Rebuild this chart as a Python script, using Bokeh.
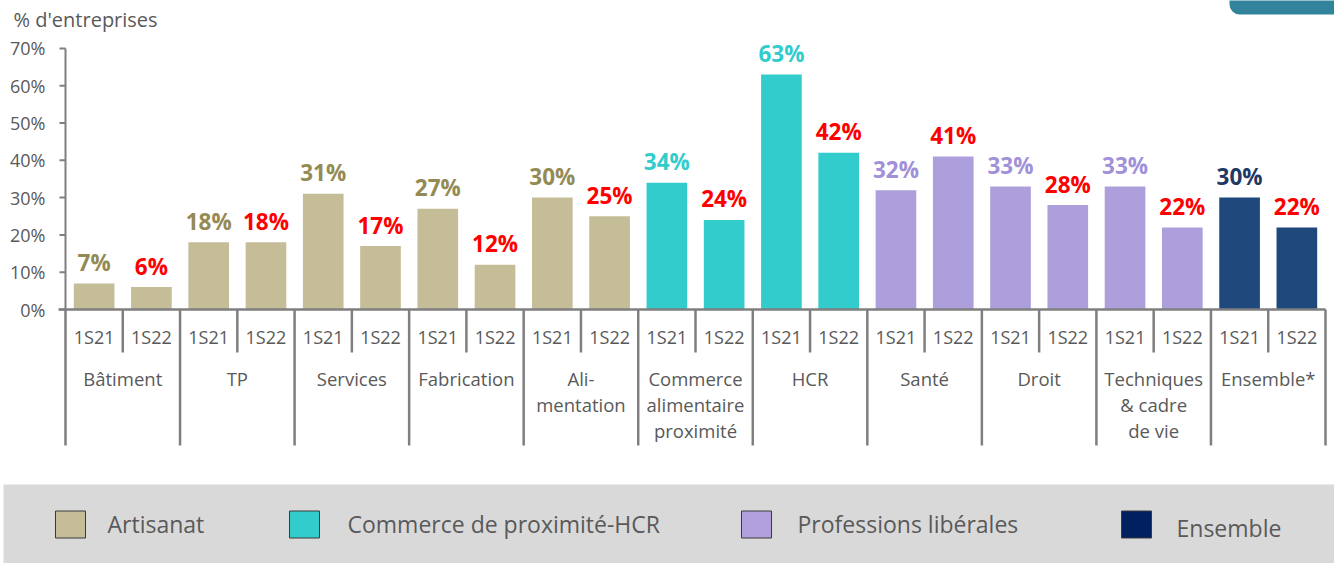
from bokeh.plotting import figure
from bokeh.models import Range1d, BoxAnnotation, ColumnDataSource
from bokeh.core.properties import value
from bokeh.embed import file_html
from bokeh.resources import INLINE

# ---------------- data ----------------
groups = ["Bâtiment", "TP", "Services", "Fabrication", "Ali-\nmentation",
          "Commerce\nalimentaire\nproximité", "HCR", "Santé", "Droit",
          "Techniques\n& cadre\nde vie", "Ensemble*"]
families = ["Artisanat"] * 5 + ["Commerce de proximité-HCR"] * 2 + ["Professions libérales"] * 3 + ["Ensemble"]
periods = ["1S21", "1S22"]
v_1S21 = [7, 18, 31, 27, 30, 34, 63, 32, 33, 33, 30]
v_1S22 = [6, 18, 17, 12, 25, 24, 42, 41, 28, 22, 22]
y_ticks = [0, 10, 20, 30, 40, 50, 60, 70]
y_title = "% d'entreprises"
legend_names = ["Artisanat", "Commerce de proximité-HCR", "Professions libérales", "Ensemble"]

# ---------------- styles ----------------
bar_colors = {"Artisanat": "#c4bd97", "Commerce de proximité-HCR": "#33cccc",
              "Professions libérales": "#ad9fdc", "Ensemble": "#1f497d"}
lab_colors = {"Artisanat": "#948a54", "Commerce de proximité-HCR": "#33cccc",
              "Professions libérales": "#a191d8", "Ensemble": "#1f3864"}
legend_colors = ["#c4bd97", "#33cccc", "#b1a0dc", "#002060"]
RED = "#ff0000"
AXIS = "#7f7f7f"
TXT = "#595959"
FONT = "Open Sans"

W, H = 1334, 563
X0_PX = 65                  # px of the category axis start
S_X = (1325 - 65) / 22.0    # px per bar slot
Y0_PX = 309                 # px of 0%
PX_Y = 3.73                 # px per percentage point
LABEL_GAP_PX = 21           # gap between bar top and its value label


def xd(px):   # layout helper: pixel -> data x
    return (px - X0_PX) / S_X


def yd(px):   # layout helper: pixel -> data y
    return (Y0_PX - px) / PX_Y


p = figure(width=W, height=H, output_backend="svg", toolbar_location=None,
           x_range=Range1d(xd(0), xd(W)), y_range=Range1d(yd(H), yd(0)),
           min_border=0, x_axis_location=None, y_axis_location=None)
p.outline_line_color = None
p.xgrid.visible = False
p.ygrid.visible = False
p.background_fill_color = "white"
p.border_fill_color = "white"

n = 2 * len(groups)

# legend strip background
p.quad(left=[xd(3)], right=[xd(W + 5)], bottom=[yd(H + 5)], top=[yd(484)],
       fill_color="#d9d9d9", line_color=None)

# bars
xs, tops, cols, labs, lcols = [], [], [], [], []
for i, fam in enumerate(families):
    for j, v in enumerate((v_1S21[i], v_1S22[i])):
        xs.append(2 * i + j + 0.5)
        tops.append(v)
        cols.append(bar_colors[fam])
        labs.append(f"{v}%")
        lcols.append(lab_colors[fam] if j == 0 else RED)
src = ColumnDataSource(dict(x=xs, top=tops, color=cols, lab=labs, lcol=lcols,
                            ly=[t + LABEL_GAP_PX / PX_Y for t in tops],
                            per=[periods[k % 2] for k in range(len(xs))]))
p.vbar(x="x", top="top", width=0.71, fill_color="color", line_color=None, source=src)
p.text(x="x", y="ly", text="lab", text_color="lcol", source=src,
       text_font=value(FONT), text_font_size="22.5px", text_font_style="bold",
       text_align="center", text_baseline="middle")

# y axis: line, ticks, labels
p.segment(x0=[0], y0=[y_ticks[0]], x1=[0], y1=[y_ticks[-1]], line_color=AXIS, line_width=2)
p.segment(x0=[xd(59)] * len(y_ticks), y0=y_ticks, x1=[0] * len(y_ticks), y1=y_ticks,
          line_color=AXIS, line_width=2)
p.text(x=[xd(45)] * len(y_ticks), y=y_ticks, text=[f"{t}%" for t in y_ticks], text_color=TXT,
       text_font=value(FONT), text_font_size="18px", text_align="right", text_baseline="middle")
p.text(x=[xd(13)], y=[yd(19)], text=[y_title], text_color=TXT,
       text_font=value(FONT), text_font_size="20px", text_align="left", text_baseline="middle")

# category axis line
p.segment(x0=[xd(58)], y0=[0], x1=[n], y1=[0], line_color=AXIS, line_width=2.5)

# category separators
major = list(range(0, n + 1, 2))
minor = list(range(1, n, 2))
p.segment(x0=major, y0=[0] * len(major), x1=major, y1=[yd(445)] * len(major), line_color=AXIS, line_width=2.5)
p.segment(x0=minor, y0=[0] * len(minor), x1=minor, y1=[yd(352)] * len(minor), line_color=AXIS, line_width=2.5)

# period labels
p.text(x="x", y=yd(336), text="per", source=src, text_color=TXT,
       text_font=value(FONT), text_font_size="18px", text_align="center", text_baseline="middle")

# group labels
gx, gy, gt = [], [], []
for i, g in enumerate(groups):
    for k, line in enumerate(g.split("\n")):
        gx.append(2 * i + 1)
        gy.append(yd(378 + 26 * k))
        gt.append(line)
p.text(x=gx, y=gy, text=gt, text_color=TXT, text_font=value(FONT), text_font_size="18.5px",
       text_align="center", text_baseline="middle")

# decorative tab top-right
p.add_layout(BoxAnnotation(left=xd(1229), right=xd(W + 20), bottom=yd(14), top=yd(-20),
                           fill_color="#31849b", fill_alpha=1, line_color=None, border_radius=10))

# legend items
sq_px = [70, 304, 756, 1136]
tx_px = [107, 347, 797, 1176]
ty_px = [523, 523, 523, 527]
p.rect(x=[xd(v) for v in sq_px], y=[yd(524)] * 4, width=30 / S_X, height=27 / PX_Y,
       fill_color=legend_colors, line_color="#3a3a3a", line_width=1)
p.text(x=[xd(v) for v in tx_px], y=[yd(v) for v in ty_px], text=legend_names, text_color=TXT,
       text_font=value(FONT), text_font_size="23px", text_align="left", text_baseline="middle")

open("out.html", "w").write(file_html(p, INLINE))
